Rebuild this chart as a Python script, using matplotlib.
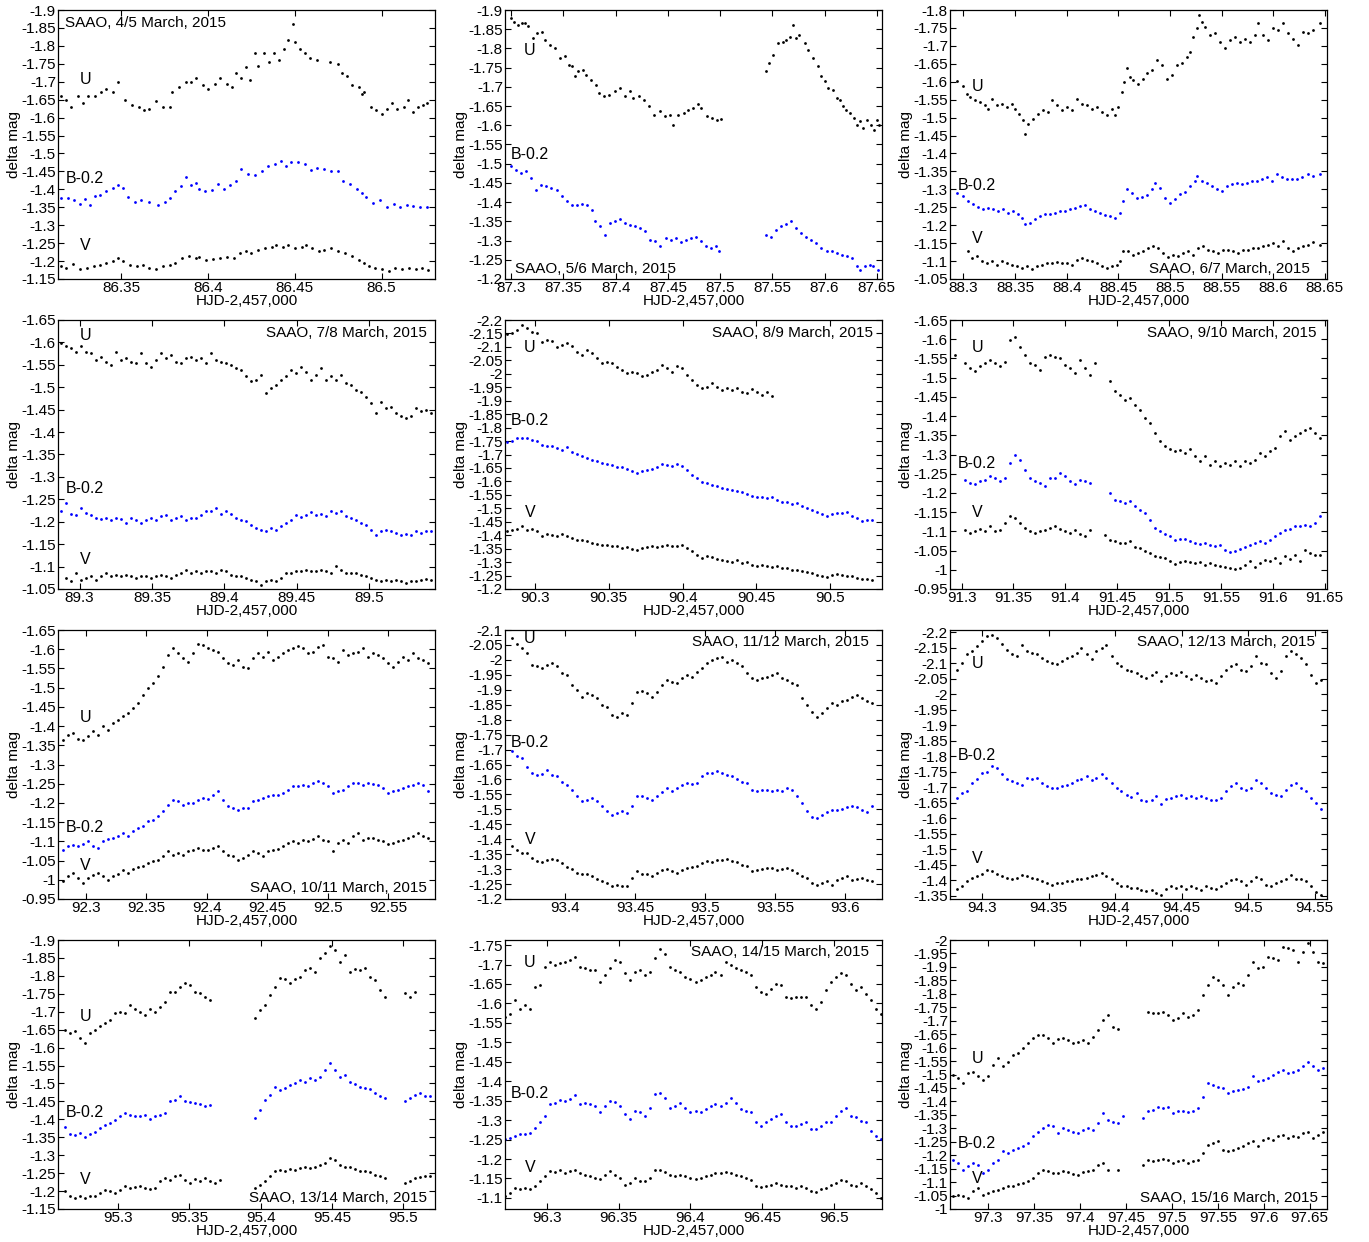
import matplotlib
matplotlib.use("Agg")
import matplotlib.pyplot as plt
import numpy as np
from matplotlib.ticker import MultipleLocator, FuncFormatter

plt.rcParams['font.family'] = ['Liberation Sans', 'DejaVu Sans']
plt.rcParams['axes.unicode_minus'] = False
nan = float('nan')

# ---------------- Panel 1 : SAAO, 4/5 March, 2015 ----------------
p1_t_u = [86.315,86.318,86.321,86.325,86.328,86.331,86.335,86.338,86.341,86.345,86.348,86.352,86.356,86.360,86.363,86.366,86.370,86.374,86.378,86.379,86.383,86.387,86.390,86.393,86.397,86.400,86.404,86.407,86.411,86.414,86.416,86.419,86.422,86.424,86.427,86.429,86.432,86.435,86.438,86.441,86.444,86.446,86.449,86.450,86.453,86.456,86.459,86.463,86.470,86.475,86.477,86.480,86.483,86.487,86.489,86.490,86.494,86.497,86.500,86.503,86.506,86.509,86.513,86.515,86.518,86.521,86.524,86.526]
p1_u = [-1.66,-1.65,-1.63,-1.66,-1.64,-1.66,-1.66,-1.67,-1.68,-1.67,-1.70,-1.65,-1.635,-1.63,-1.62,-1.625,-1.645,-1.63,-1.63,-1.67,-1.685,-1.70,-1.70,-1.71,-1.69,-1.68,-1.695,-1.71,-1.695,-1.685,-1.725,-1.71,-1.74,-1.705,-1.78,-1.745,-1.78,-1.755,-1.78,-1.76,-1.79,-1.815,-1.86,-1.81,-1.79,-1.78,-1.765,-1.76,-1.755,-1.75,-1.725,-1.715,-1.69,-1.685,-1.665,-1.67,-1.63,-1.62,-1.61,-1.625,-1.64,-1.625,-1.63,-1.65,-1.615,-1.63,-1.635,-1.64]
p1_t_b = [86.315,86.319,86.323,86.326,86.329,86.332,86.335,86.3375,86.341,86.345,86.348,86.351,86.354,86.358,86.3615,86.366,86.371,86.375,86.378,86.381,86.3846,86.3875,86.390,86.393,86.395,86.398,86.402,86.406,86.409,86.4125,86.416,86.419,86.423,86.427,86.431,86.4346,86.4385,86.442,86.445,86.448,86.452,86.456,86.4596,86.463,86.467,86.471,86.475,86.478,86.482,86.4856,86.4885,86.491,86.495,86.499,86.503,86.507,86.5106,86.5144,86.518,86.522,86.526]
p1_b = [-1.375,-1.377,-1.37,-1.36,-1.373,-1.355,-1.382,-1.385,-1.394,-1.403,-1.413,-1.403,-1.38,-1.366,-1.37,-1.366,-1.357,-1.366,-1.375,-1.394,-1.408,-1.434,-1.413,-1.419,-1.40,-1.394,-1.399,-1.415,-1.40,-1.413,-1.422,-1.456,-1.443,-1.44,-1.45,-1.464,-1.471,-1.478,-1.466,-1.476,-1.475,-1.471,-1.454,-1.459,-1.456,-1.452,-1.45,-1.422,-1.414,-1.40,-1.389,-1.38,-1.363,-1.37,-1.35,-1.36,-1.352,-1.355,-1.354,-1.352,-1.35]
p1_t_v = [86.315,86.318,86.322,86.326,86.330,86.334,86.3375,86.341,86.345,86.348,86.351,86.355,86.359,86.3625,86.366,86.370,86.374,86.378,86.381,86.385,86.389,86.393,86.395,86.399,86.403,86.407,86.411,86.415,86.4183,86.422,86.425,86.429,86.433,86.437,86.4394,86.443,86.446,86.450,86.454,86.4567,86.460,86.464,86.467,86.471,86.475,86.479,86.483,86.487,86.490,86.4925,86.4962,86.500,86.504,86.508,86.512,86.516,86.5196,86.5235,86.527]
p1_v = [-1.185,-1.182,-1.191,-1.178,-1.182,-1.185,-1.19,-1.194,-1.20,-1.208,-1.199,-1.19,-1.185,-1.19,-1.18,-1.178,-1.185,-1.19,-1.194,-1.208,-1.213,-1.208,-1.211,-1.202,-1.205,-1.208,-1.211,-1.208,-1.222,-1.229,-1.222,-1.231,-1.236,-1.239,-1.245,-1.239,-1.245,-1.236,-1.24,-1.245,-1.236,-1.227,-1.231,-1.236,-1.227,-1.222,-1.213,-1.204,-1.194,-1.185,-1.182,-1.178,-1.171,-1.182,-1.178,-1.18,-1.178,-1.18,-1.174]

# ---------------- Panel 2 : SAAO, 5/6 March, 2015 ----------------
p2_t_u = [87.300,87.303,87.306,87.310,87.313,87.316,87.321,87.325,87.329,87.332,87.337,87.342,87.347,87.351,87.355,87.358,87.361,87.364,87.369,87.372,87.376,87.381,87.384,87.389,87.394,87.399,87.404,87.409,87.414,87.417,87.422,87.427,87.432,87.437,87.442,87.447,87.452,87.455,87.460,87.465,87.469,87.474,87.479,87.482,87.487,87.492,87.497,87.501,
          87.544,87.547,87.5505,87.555,87.560,87.563,87.5665,87.570,87.573,87.576,87.581,87.584,87.589,87.594,87.597,87.600,87.603,87.608,87.6115,87.615,87.618,87.621,87.624,87.628,87.631,87.634,87.637,87.6405,87.644,87.647,87.650,87.652]
p2_u = [-1.878,-1.87,-1.861,-1.865,-1.867,-1.858,-1.826,-1.839,-1.844,-1.822,-1.809,-1.80,-1.774,-1.779,-1.757,-1.753,-1.727,-1.74,-1.744,-1.731,-1.718,-1.705,-1.683,-1.675,-1.679,-1.688,-1.696,-1.675,-1.688,-1.67,-1.675,-1.666,-1.649,-1.627,-1.636,-1.623,-1.627,-1.601,-1.627,-1.631,-1.64,-1.644,-1.656,-1.644,-1.623,-1.618,-1.614,-1.616,
        -1.74,-1.761,-1.783,-1.813,-1.818,-1.822,-1.831,-1.861,-1.826,-1.835,-1.813,-1.796,-1.774,-1.753,-1.727,-1.714,-1.696,-1.692,-1.67,-1.666,-1.649,-1.64,-1.631,-1.618,-1.601,-1.61,-1.592,-1.614,-1.601,-1.588,-1.614,-1.601]
p2_t_b = [87.300,87.3048,87.3096,87.3145,87.3193,87.3241,87.3289,87.3337,87.3385,87.3434,87.3482,87.353,87.3578,87.3626,87.3674,87.3723,87.3771,87.3803,87.3851,87.3899,87.3947,87.3996,87.4044,87.4092,87.414,87.4188,87.4236,87.4285,87.4333,87.4381,87.4429,87.4477,87.4525,87.4574,87.4622,87.467,87.4718,87.4766,87.4814,87.4863,87.4911,87.4959,87.4991,
          87.544,87.5489,87.5537,87.5585,87.5633,87.5681,87.573,87.5778,87.5826,87.5874,87.5922,87.597,87.6019,87.6067,87.6115,87.6163,87.6211,87.626,87.6308,87.634,87.6388,87.6436,87.6468,87.6516]
p2_b = [-1.493,-1.484,-1.475,-1.48,-1.462,-1.432,-1.445,-1.441,-1.436,-1.432,-1.415,-1.402,-1.393,-1.393,-1.396,-1.393,-1.38,-1.35,-1.337,-1.315,-1.345,-1.35,-1.356,-1.345,-1.341,-1.337,-1.332,-1.324,-1.302,-1.298,-1.285,-1.306,-1.302,-1.306,-1.295,-1.302,-1.306,-1.31,-1.298,-1.285,-1.28,-1.285,-1.274,
        -1.315,-1.31,-1.328,-1.337,-1.344,-1.35,-1.332,-1.319,-1.31,-1.302,-1.293,-1.28,-1.274,-1.272,-1.267,-1.263,-1.259,-1.254,-1.233,-1.224,-1.233,-1.237,-1.233,-1.224]

# ---------------- Panel 3 : SAAO, 6/7 March, 2015 ----------------
p3_t_u = [88.2935,88.300,88.3032,88.3065,88.3113,88.3161,88.321,88.3242,88.3274,88.3323,88.3371,88.3419,88.3468,88.35,88.3539,88.3581,88.3597,88.3629,88.3677,88.3726,88.3774,88.3823,88.3855,88.3903,88.3952,88.4,88.4048,88.4097,88.4145,88.4194,88.4242,88.429,88.4339,88.4387,88.4435,88.4468,88.45,88.4532,88.4558,88.4581,88.4613,88.4645,88.4694,88.4742,88.4774,88.4823,88.4871,88.4919,88.4968,88.5016,88.5065,88.5113,88.5161,88.5194,88.5226,88.5258,88.5281,88.5306,88.5339,88.5387,88.5435,88.5484,88.5532,88.5581,88.5629,88.5677,88.5726,88.5774,88.5823,88.5855,88.5903,88.5952,88.6,88.6048,88.6097,88.6145,88.6194,88.6242,88.629,88.6339,88.6387,88.6452]
p3_u = [-1.601,-1.588,-1.567,-1.557,-1.548,-1.543,-1.534,-1.525,-1.553,-1.534,-1.539,-1.529,-1.539,-1.525,-1.511,-1.492,-1.455,-1.483,-1.497,-1.511,-1.52,-1.515,-1.548,-1.536,-1.52,-1.529,-1.52,-1.553,-1.539,-1.534,-1.525,-1.529,-1.515,-1.506,-1.525,-1.506,-1.529,-1.571,-1.599,-1.637,-1.613,-1.604,-1.595,-1.609,-1.623,-1.632,-1.66,-1.646,-1.609,-1.618,-1.646,-1.651,-1.669,-1.683,-1.725,-1.749,-1.786,-1.767,-1.753,-1.73,-1.735,-1.711,-1.693,-1.716,-1.725,-1.711,-1.72,-1.711,-1.73,-1.763,-1.73,-1.716,-1.749,-1.744,-1.763,-1.735,-1.72,-1.702,-1.739,-1.735,-1.744,-1.763]
p3_t_b = [88.2935,88.300,88.3048,88.3097,88.3145,88.3194,88.3242,88.329,88.3339,88.3387,88.3435,88.3484,88.3532,88.3565,88.3597,88.3645,88.3694,88.3742,88.379,88.3839,88.3887,88.3935,88.3984,88.4032,88.4081,88.4129,88.4177,88.4226,88.4274,88.4323,88.4371,88.4419,88.4468,88.4516,88.4548,88.4581,88.4629,88.4677,88.4726,88.4774,88.4823,88.4855,88.4903,88.4952,88.5,88.5048,88.5097,88.5145,88.5194,88.5242,88.5258,88.5306,88.5355,88.5403,88.5452,88.55,88.5548,88.5597,88.5645,88.5694,88.5742,88.579,88.5839,88.5887,88.5935,88.5984,88.6032,88.6081,88.6129,88.6177,88.6226,88.6274,88.6339,88.6387,88.6452]
p3_b = [-1.291,-1.282,-1.268,-1.258,-1.252,-1.244,-1.249,-1.244,-1.24,-1.244,-1.235,-1.24,-1.23,-1.221,-1.202,-1.205,-1.216,-1.226,-1.23,-1.23,-1.235,-1.24,-1.24,-1.244,-1.249,-1.254,-1.256,-1.244,-1.24,-1.235,-1.228,-1.226,-1.221,-1.235,-1.268,-1.30,-1.291,-1.277,-1.28,-1.284,-1.30,-1.319,-1.305,-1.277,-1.263,-1.272,-1.287,-1.293,-1.31,-1.324,-1.338,-1.324,-1.319,-1.31,-1.302,-1.296,-1.31,-1.314,-1.319,-1.314,-1.319,-1.324,-1.324,-1.328,-1.333,-1.324,-1.342,-1.333,-1.328,-1.33,-1.328,-1.333,-1.342,-1.338,-1.342]
p3_t_v = [88.3048,88.3081,88.3129,88.3177,88.3226,88.3274,88.3323,88.3371,88.3419,88.3468,88.3516,88.3565,88.3613,88.3661,88.371,88.3758,88.3806,88.3855,88.3903,88.3952,88.4,88.4048,88.4097,88.4145,88.4194,88.4242,88.429,88.4339,88.4387,88.4435,88.4484,88.4516,88.4548,88.4597,88.4645,88.4694,88.4742,88.479,88.4839,88.4887,88.4935,88.4984,88.5032,88.5081,88.5129,88.5177,88.5226,88.5274,88.5323,88.5371,88.5419,88.5468,88.5516,88.5565,88.5613,88.5661,88.571,88.5758,88.5806,88.5855,88.5903,88.5952,88.6,88.6048,88.6097,88.6145,88.6194,88.6242,88.629,88.6339,88.6387,88.6452]
p3_v = [-1.128,-1.109,-1.114,-1.10,-1.095,-1.10,-1.09,-1.10,-1.095,-1.09,-1.086,-1.081,-1.086,-1.078,-1.086,-1.09,-1.095,-1.095,-1.097,-1.095,-1.095,-1.09,-1.104,-1.109,-1.104,-1.10,-1.095,-1.086,-1.081,-1.086,-1.09,-1.10,-1.128,-1.128,-1.118,-1.123,-1.128,-1.137,-1.142,-1.137,-1.123,-1.112,-1.118,-1.114,-1.123,-1.128,-1.118,-1.137,-1.142,-1.132,-1.128,-1.123,-1.131,-1.132,-1.128,-1.123,-1.132,-1.131,-1.137,-1.137,-1.142,-1.146,-1.151,-1.142,-1.156,-1.137,-1.128,-1.137,-1.142,-1.146,-1.153,-1.146]

# ---------------- Panel 4 : SAAO, 7/8 March, 2015 ----------------
p4_t = [89.2874,89.2908,89.2943,89.2977,89.3011,89.3046,89.308,89.3115,89.3149,89.3184,89.3218,89.3253,89.3287,89.3322,89.3356,89.3391,89.3425,89.346,89.3494,89.3529,89.3563,89.3598,89.3632,89.3667,89.3701,89.3736,89.377,89.3805,89.3839,89.3874,89.3908,89.3943,89.3977,89.4011,89.4046,89.408,89.4115,89.4149,89.4184,89.4218,89.4253,89.4287,89.4322,89.4356,89.4391,89.4425,89.446,89.4494,89.4529,89.4563,89.4598,89.4632,89.4667,89.4701,89.4736,89.477,89.4805,89.4839,89.4874,89.4908,89.4943,89.4977,89.5011,89.5046,89.508,89.5115,89.5149,89.5184,89.5218,89.5253,89.5287,89.5322,89.5356,89.5391,89.5425]
p4_u = [-1.598,-1.591,-1.587,-1.579,-1.591,-1.579,-1.576,-1.561,-1.568,-1.557,-1.55,-1.579,-1.561,-1.565,-1.557,-1.553,-1.576,-1.553,-1.546,-1.561,-1.576,-1.565,-1.572,-1.557,-1.553,-1.565,-1.568,-1.561,-1.565,-1.553,-1.576,-1.561,-1.557,-1.553,-1.55,-1.542,-1.539,-1.524,-1.513,-1.516,-1.528,-1.487,-1.498,-1.505,-1.516,-1.524,-1.539,-1.531,-1.546,-1.535,-1.516,-1.528,-1.542,-1.516,-1.524,-1.516,-1.528,-1.509,-1.505,-1.494,-1.49,-1.479,-1.464,-1.442,-1.468,-1.453,-1.457,-1.442,-1.435,-1.431,-1.435,-1.453,-1.446,-1.45,-1.442]
p4_b = [-1.223,-1.242,-1.218,-1.216,-1.23,-1.219,-1.216,-1.208,-1.206,-1.208,-1.205,-1.208,-1.206,-1.197,-1.208,-1.205,-1.197,-1.205,-1.208,-1.205,-1.212,-1.216,-1.205,-1.208,-1.212,-1.205,-1.208,-1.208,-1.216,-1.225,-1.223,-1.23,-1.218,-1.223,-1.218,-1.208,-1.205,-1.201,-1.193,-1.186,-1.182,-1.179,-1.186,-1.182,-1.191,-1.197,-1.205,-1.216,-1.211,-1.216,-1.221,-1.216,-1.218,-1.212,-1.223,-1.219,-1.225,-1.212,-1.208,-1.205,-1.197,-1.193,-1.182,-1.171,-1.179,-1.182,-1.179,-1.175,-1.171,-1.173,-1.171,-1.179,-1.175,-1.179,-1.179]
p4_v = [nan,-1.075,-1.067,-1.086,-1.071,-1.075,-1.078,-1.071,-1.078,-1.086,-1.078,-1.082,-1.078,-1.082,-1.078,-1.075,-1.078,-1.078,-1.075,-1.078,-1.082,-1.078,-1.075,-1.082,-1.086,-1.093,-1.086,-1.09,-1.086,-1.09,-1.09,-1.086,-1.093,-1.09,-1.082,-1.078,-1.078,-1.075,-1.071,-1.067,-1.06,-1.067,-1.071,-1.067,-1.075,-1.086,-1.086,-1.09,-1.09,-1.093,-1.09,-1.09,-1.093,-1.09,-1.086,-1.101,-1.093,-1.086,-1.086,-1.086,-1.082,-1.078,-1.075,-1.071,-1.067,-1.071,-1.067,-1.071,-1.067,-1.063,-1.067,-1.067,-1.071,-1.072,-1.069]

# ---------------- Panel 5 : SAAO, 8/9 March, 2015 ----------------
p5_t = [90.2808,90.2842,90.2876,90.291,90.2944,90.2977,90.3011,90.3045,90.3079,90.3113,90.3147,90.3181,90.3215,90.3249,90.3282,90.3316,90.335,90.3384,90.3418,90.3452,90.3486,90.352,90.3554,90.3588,90.3621,90.3655,90.3689,90.3723,90.3757,90.3791,90.3825,90.3859,90.3893,90.3927,90.396,90.3994,90.4028,90.4062,90.4096,90.413,90.4164,90.4198,90.4232,90.4266,90.4299,90.4333,90.4367,90.4401,90.4435,90.4469,90.4503,90.4537,90.4571,90.4605,90.4638,90.4672,90.4706,90.474,90.4774,90.4808,90.4842,90.4876,90.491,90.4944,90.4977,90.5011,90.5045,90.5079,90.5113,90.5147,90.5181,90.5215,90.5249,90.5282]
p5_u = [-2.148,-2.153,-2.163,-2.181,-2.169,-2.157,-2.15,-2.12,-2.126,-2.123,-2.101,-2.107,-2.113,-2.103,-2.082,-2.07,-2.089,-2.076,-2.058,-2.042,-2.045,-2.039,-2.027,-2.014,-2.004,-2.008,-2.002,-1.99,-1.996,-2.008,-2.014,-2.033,-2.021,-2.008,-2.029,-2.021,-1.996,-1.977,-1.959,-1.946,-1.95,-1.965,-1.952,-1.94,-1.946,-1.94,-1.946,-1.934,-1.928,-1.943,-1.934,-1.922,-1.934,-1.918,
        nan,nan,nan,nan,nan,nan,nan,nan,nan,nan,nan,nan,nan,nan,nan,nan,nan,nan,nan,nan]
p5_b = [-1.745,-1.751,-1.761,-1.763,-1.761,-1.754,-1.752,-1.736,-1.732,-1.73,-1.724,-1.717,-1.727,-1.711,-1.702,-1.695,-1.686,-1.68,-1.674,-1.668,-1.665,-1.662,-1.655,-1.653,-1.646,-1.637,-1.633,-1.637,-1.643,-1.646,-1.655,-1.665,-1.662,-1.658,-1.665,-1.658,-1.643,-1.624,-1.612,-1.596,-1.594,-1.587,-1.584,-1.577,-1.571,-1.569,-1.563,-1.559,-1.554,-1.547,-1.542,-1.542,-1.538,-1.542,-1.532,-1.525,-1.522,-1.517,-1.519,-1.509,-1.501,-1.495,-1.488,-1.48,-1.472,-1.48,-1.482,-1.482,-1.485,-1.472,-1.464,-1.451,-1.455,-1.455]
p5_v = [-1.414,-1.418,-1.423,-1.433,-1.42,-1.423,-1.414,-1.398,-1.405,-1.402,-1.396,-1.405,-1.398,-1.389,-1.383,-1.383,-1.377,-1.371,-1.368,-1.365,-1.365,-1.361,-1.358,-1.352,-1.356,-1.349,-1.346,-1.352,-1.356,-1.358,-1.356,-1.361,-1.365,-1.361,-1.358,-1.365,-1.352,-1.34,-1.327,-1.315,-1.324,-1.319,-1.311,-1.306,-1.303,-1.299,-1.309,-1.297,-1.299,-1.29,-1.287,-1.29,-1.287,-1.282,-1.285,-1.278,-1.278,-1.272,-1.269,-1.266,-1.262,-1.259,-1.253,-1.247,-1.245,-1.253,-1.257,-1.253,-1.247,-1.25,-1.241,-1.237,-1.237,-1.235]

# ---------------- Panel 6 : SAAO, 9/10 March, 2015 ----------------
p6_t = [91.2936,91.2984,91.3032,91.308,91.3128,91.3177,91.3225,91.3273,91.3321,91.3369,91.3417,91.3466,91.3514,91.3562,91.361,91.3658,91.3706,91.3755,91.3803,91.3851,91.3899,91.3947,91.3996,91.4044,91.4092,91.414,91.4188,91.4236,91.4285,91.4333,91.4381,91.4429,91.4477,91.4525,91.4574,91.4622,91.467,91.4718,91.4766,91.4814,91.4863,91.4911,91.4959,91.5007,91.5055,91.5103,91.5152,91.52,91.5248,91.5296,91.5344,91.5392,91.5441,91.5489,91.5537,91.5585,91.5633,91.5681,91.573,91.5778,91.5826,91.5874,91.5922,91.597,91.6019,91.6067,91.6115,91.6163,91.6211,91.626,91.6308,91.6356,91.6404,91.6452]
p6_u = [-1.559,nan,-1.537,-1.524,-1.516,-1.529,-1.537,-1.546,-1.537,-1.529,-1.542,-1.598,-1.607,-1.581,-1.559,-1.537,-1.533,-1.52,-1.555,-1.559,-1.555,-1.55,-1.533,-1.524,-1.511,-1.546,-1.524,-1.507,-1.537,nan,nan,
        -1.49,-1.464,-1.455,-1.442,-1.446,-1.429,-1.416,-1.394,-1.381,-1.355,-1.334,-1.321,-1.314,-1.308,-1.312,-1.303,-1.314,-1.295,-1.282,-1.295,-1.273,-1.282,-1.269,-1.277,-1.273,-1.282,-1.269,-1.282,-1.277,-1.286,-1.303,-1.295,-1.308,-1.316,-1.347,-1.36,-1.338,-1.347,-1.355,-1.364,-1.368,-1.355,-1.342]
p6_b = [nan,nan,-1.234,-1.225,-1.224,-1.23,-1.234,-1.243,-1.238,-1.23,-1.238,-1.277,-1.299,-1.286,-1.26,-1.238,-1.23,-1.225,-1.217,-1.238,-1.238,-1.251,-1.243,-1.23,-1.224,-1.234,-1.23,-1.225,nan,nan,nan,
        -1.201,-1.182,-1.178,-1.173,-1.178,-1.165,-1.156,-1.147,-1.13,-1.108,-1.1,-1.094,-1.087,-1.078,-1.08,-1.08,-1.074,-1.069,-1.068,-1.071,-1.065,-1.061,-1.065,-1.052,-1.045,-1.05,-1.054,-1.059,-1.065,-1.069,-1.074,-1.069,-1.078,-1.087,-1.097,-1.104,-1.106,-1.113,-1.115,-1.117,-1.115,-1.121,-1.139]
p6_v = [nan,nan,-1.104,-1.097,-1.102,-1.106,-1.102,-1.113,-1.1,-1.104,-1.121,-1.14,-1.134,-1.121,-1.108,-1.1,-1.095,-1.1,-1.104,-1.108,-1.113,-1.106,-1.1,-1.095,-1.104,-1.093,-1.088,-1.104,nan,nan,-1.09,
        -1.078,-1.074,-1.071,-1.069,-1.074,-1.059,-1.056,-1.048,-1.043,-1.037,-1.033,-1.03,-1.022,-1.016,-1.019,-1.022,-1.019,-1.017,-1.019,-1.013,-1.017,-1.013,-1.01,-1.007,-1.004,-1.002,-1.004,-1.013,-1.022,-1.008,-1.017,-1.026,-1.022,-1.03,-1.017,-1.035,-1.028,-1.039,-1.022,-1.052,-1.043,-1.039,-1.039]

# ---------------- Panel 7 : SAAO, 10/11 March, 2015 ----------------
p7_t = [92.2813,92.2854,92.2895,92.2937,92.2978,92.3019,92.3061,92.3102,92.3143,92.3185,92.3226,92.3267,92.3309,92.335,92.3391,92.3433,92.3474,92.3515,92.3557,92.3598,92.3639,92.3681,92.3722,92.3763,92.3805,92.3846,92.3888,92.3929,92.397,92.4012,92.4053,92.4094,92.4136,92.4177,92.4218,92.426,92.4301,92.4342,92.4384,92.4425,92.4466,92.4508,92.4549,92.459,92.4632,92.4673,92.4714,92.4756,92.4797,92.4838,92.488,92.4921,92.4962,92.5004,92.5045,92.5087,92.5128,92.5169,92.5211,92.5252,92.5293,92.5335,92.5376,92.5417,92.5459,92.55,92.5541,92.5583,92.5624,92.5665,92.5707,92.5748,92.5789,92.5831]
p7_u = [-1.364,-1.377,-1.381,-1.366,-1.364,-1.373,-1.386,-1.377,-1.399,-1.39,-1.407,-1.416,-1.425,-1.433,-1.446,-1.459,-1.481,-1.498,-1.511,-1.529,-1.555,-1.585,-1.602,-1.589,-1.576,-1.568,-1.589,-1.614,-1.611,-1.602,-1.598,-1.594,-1.576,-1.563,-1.559,-1.572,-1.555,-1.55,-1.576,-1.589,-1.581,-1.594,-1.572,-1.581,-1.589,-1.598,-1.602,-1.608,-1.602,-1.589,-1.594,-1.607,-1.611,-1.581,-1.576,-1.568,-1.598,-1.585,-1.589,-1.594,-1.602,-1.581,-1.589,-1.585,-1.576,-1.563,-1.555,-1.568,-1.581,-1.572,-1.589,-1.576,-1.572,-1.563]
p7_b = [-1.078,-1.087,-1.091,-1.087,-1.094,-1.1,-1.089,-1.082,-1.1,-1.106,-1.108,-1.114,-1.121,-1.113,-1.126,-1.134,-1.139,-1.152,-1.156,-1.165,-1.178,-1.195,-1.208,-1.204,-1.195,-1.199,-1.201,-1.208,-1.212,-1.21,-1.221,-1.23,-1.208,-1.191,-1.186,-1.182,-1.186,-1.186,-1.204,-1.208,-1.212,-1.217,-1.221,-1.221,-1.227,-1.234,-1.243,-1.243,-1.247,-1.243,-1.251,-1.256,-1.251,-1.243,-1.225,-1.23,-1.234,-1.243,-1.251,-1.253,-1.247,-1.251,-1.249,-1.247,-1.238,-1.225,-1.23,-1.234,-1.238,-1.243,-1.247,-1.251,-1.247,-1.23]
p7_v = [-0.996,-1.009,-1.017,-1.004,-0.991,-1.004,-1.013,-1.017,-1.009,-1.0,-1.009,-1.016,-1.026,-1.017,-1.028,-1.033,-1.036,-1.043,-1.048,-1.052,-1.061,-1.074,-1.065,-1.069,-1.065,-1.074,-1.078,-1.082,-1.078,-1.078,-1.082,-1.087,-1.074,-1.065,-1.061,-1.052,-1.056,-1.065,-1.074,-1.069,-1.061,-1.074,-1.078,-1.08,-1.087,-1.095,-1.1,-1.097,-1.104,-1.1,-1.106,-1.113,-1.104,-1.1,-1.074,-1.097,-1.104,-1.097,-1.113,-1.121,-1.104,-1.108,-1.108,-1.104,-1.1,-1.094,-1.097,-1.102,-1.104,-1.108,-1.113,-1.121,-1.113,-1.108]

# ---------------- Panel 8 : SAAO, 11/12 March, 2015 ----------------
p8_t = [93.3619,93.3655,93.369,93.3726,93.3762,93.3798,93.3833,93.3869,93.3905,93.394,93.3976,93.4012,93.4048,93.4083,93.4119,93.4155,93.419,93.4226,93.4262,93.4298,93.4333,93.4369,93.4405,93.444,93.4476,93.4512,93.4548,93.4583,93.4619,93.4655,93.469,93.4726,93.4762,93.4798,93.4833,93.4869,93.4905,93.494,93.4976,93.5012,93.5048,93.5083,93.5119,93.5155,93.519,93.5226,93.5262,93.5298,93.5333,93.5369,93.5405,93.544,93.5476,93.5512,93.5548,93.5583,93.5619,93.5655,93.569,93.5726,93.5762,93.5798,93.5833,93.5869,93.5905,93.594,93.5976,93.6012,93.6048,93.6083,93.6119,93.6155,93.619]
p8_u = [-2.072,-2.053,-2.039,-2.022,-1.983,-1.978,-1.972,-1.983,-1.989,-1.978,-1.955,-1.95,-1.916,-1.9,-1.877,-1.888,-1.883,-1.872,-1.849,-1.842,-1.816,-1.808,-1.822,-1.816,-1.855,-1.894,-1.897,-1.888,-1.877,-1.894,-1.916,-1.933,-1.927,-1.922,-1.939,-1.95,-1.944,-1.961,-1.972,-1.989,-2.0,-2.005,-2.011,-1.994,-2.0,-1.989,-1.978,-1.955,-1.939,-1.933,-1.939,-1.944,-1.95,-1.955,-1.939,-1.933,-1.922,-1.916,-1.872,-1.849,-1.827,-1.81,-1.822,-1.838,-1.855,-1.849,-1.861,-1.866,-1.877,-1.883,-1.872,-1.861,-1.855]
p8_b = [-1.694,-1.677,-1.671,-1.643,-1.621,-1.616,-1.619,-1.632,-1.616,-1.61,-1.593,-1.582,-1.565,-1.543,-1.527,-1.532,-1.538,-1.527,-1.51,-1.493,-1.482,-1.488,-1.493,-1.488,-1.51,-1.543,-1.546,-1.538,-1.532,-1.543,-1.557,-1.571,-1.56,-1.571,-1.582,-1.588,-1.585,-1.588,-1.61,-1.621,-1.621,-1.627,-1.621,-1.616,-1.61,-1.601,-1.593,-1.588,-1.565,-1.56,-1.565,-1.565,-1.563,-1.565,-1.563,-1.571,-1.565,-1.543,-1.521,-1.493,-1.476,-1.471,-1.482,-1.49,-1.499,-1.497,-1.501,-1.508,-1.51,-1.508,-1.499,-1.49,-1.512]
p8_v = [-1.376,-1.365,-1.354,-1.354,-1.337,-1.326,-1.323,-1.332,-1.334,-1.33,-1.321,-1.307,-1.3,-1.287,-1.282,-1.285,-1.276,-1.267,-1.259,-1.254,-1.243,-1.248,-1.245,-1.243,-1.27,-1.293,-1.285,-1.282,-1.276,-1.287,-1.296,-1.3,-1.293,-1.287,-1.298,-1.304,-1.307,-1.311,-1.321,-1.326,-1.323,-1.329,-1.332,-1.334,-1.326,-1.323,-1.315,-1.309,-1.293,-1.298,-1.3,-1.304,-1.304,-1.298,-1.3,-1.304,-1.298,-1.287,-1.276,-1.27,-1.254,-1.248,-1.254,-1.259,-1.248,-1.265,-1.27,-1.276,-1.265,-1.267,-1.27,-1.265,-1.259]

# ---------------- Panel 9 : SAAO, 12/13 March, 2015 ----------------
p9_t = [94.2807,94.2845,94.2882,94.292,94.2957,94.2995,94.3033,94.307,94.3108,94.3145,94.3183,94.322,94.3258,94.3296,94.3333,94.3371,94.3408,94.3446,94.3483,94.3521,94.3559,94.3596,94.3634,94.3671,94.3709,94.3746,94.3784,94.3822,94.3859,94.3897,94.3934,94.3972,94.401,94.4047,94.4085,94.4122,94.416,94.4197,94.4235,94.4273,94.431,94.4348,94.4385,94.4423,94.446,94.4498,94.4536,94.4573,94.4611,94.4648,94.4686,94.4723,94.4761,94.4799,94.4836,94.4874,94.4911,94.4949,94.4986,94.5024,94.5062,94.5099,94.5137,94.5174,94.5212,94.5249,94.5287,94.5325,94.5362,94.54,94.5437,94.5475,94.5512,94.555]
p9_u = [-2.079,-2.101,-2.128,-2.139,-2.155,-2.171,-2.187,-2.192,-2.182,-2.163,-2.144,-2.128,-2.123,-2.16,-2.139,-2.133,-2.128,-2.117,-2.106,-2.101,-2.096,-2.106,-2.117,-2.123,-2.133,-2.149,-2.128,-2.112,-2.139,-2.149,-2.16,-2.123,-2.101,-2.09,-2.079,-2.074,-2.069,-2.058,-2.053,-2.063,-2.071,-2.042,-2.058,-2.069,-2.063,-2.071,-2.058,-2.05,-2.063,-2.053,-2.042,-2.047,-2.036,-2.058,-2.079,-2.09,-2.096,-2.079,-2.074,-2.09,-2.123,-2.101,-2.096,-2.069,-2.053,-2.074,-2.123,-2.139,-2.128,-2.117,-2.096,-2.063,-2.036,-2.047]
p9_b = [-1.665,-1.681,-1.687,-1.714,-1.727,-1.746,-1.748,-1.767,-1.762,-1.741,-1.727,-1.719,-1.714,-1.708,-1.73,-1.727,-1.73,-1.714,-1.703,-1.698,-1.698,-1.703,-1.708,-1.714,-1.724,-1.727,-1.735,-1.724,-1.73,-1.741,-1.73,-1.714,-1.698,-1.687,-1.676,-1.668,-1.681,-1.66,-1.654,-1.66,-1.671,-1.647,-1.662,-1.665,-1.671,-1.676,-1.665,-1.671,-1.665,-1.671,-1.665,-1.66,-1.66,-1.665,-1.687,-1.703,-1.714,-1.698,-1.692,-1.698,-1.724,-1.714,-1.698,-1.681,-1.676,-1.671,-1.692,-1.708,-1.714,-1.698,-1.687,-1.665,-1.649,-1.63]
p9_v = [-1.371,-1.38,-1.396,-1.407,-1.412,-1.421,-1.432,-1.428,-1.421,-1.412,-1.407,-1.402,-1.407,-1.418,-1.412,-1.407,-1.402,-1.396,-1.391,-1.385,-1.391,-1.391,-1.396,-1.396,-1.402,-1.404,-1.407,-1.412,-1.418,-1.423,-1.412,-1.402,-1.391,-1.382,-1.38,-1.375,-1.375,-1.369,-1.364,-1.369,-1.359,-1.353,-1.371,-1.38,-1.375,-1.38,-1.371,-1.38,-1.375,-1.369,-1.38,-1.375,-1.371,-1.38,-1.391,-1.4,-1.404,-1.396,-1.385,-1.396,-1.41,-1.402,-1.385,-1.38,-1.391,-1.396,-1.404,-1.415,-1.402,-1.404,-1.396,-1.38,-1.361,-1.353]

# ---------------- Panel 10 : SAAO, 13/14 March, 2015 ----------------
p10_t = [95.2626,95.2661,95.2696,95.2731,95.2766,95.2801,95.2836,95.2871,95.2906,95.2942,95.2977,95.3012,95.3047,95.3082,95.3117,95.3152,95.3187,95.3222,95.3257,95.3292,95.3327,95.3363,95.3398,95.3433,95.3468,95.3503,95.3538,95.3573,95.3608,95.3643,95.3678,95.3713,95.3749,95.3784,95.3819,95.3854,95.3889,95.3924,95.3959,95.3994,95.4029,95.4064,95.4099,95.4135,95.417,95.4205,95.424,95.4275,95.431,95.4345,95.438,95.4415,95.445,95.4485,95.452,95.4556,95.4591,95.4626,95.4661,95.4696,95.4731,95.4766,95.4801,95.4836,95.4871,95.4906,95.4942,95.4977,95.5012,95.5047,95.5082,95.5117,95.5152,95.5187]
p10_u = [-1.649,-1.64,-1.645,-1.626,-1.612,-1.64,-1.649,-1.659,-1.668,-1.677,-1.696,-1.7,-1.696,-1.719,-1.709,-1.7,-1.691,-1.709,-1.7,-1.714,-1.728,-1.756,-1.756,-1.77,-1.779,-1.775,-1.756,-1.751,-1.742,-1.733,
         nan,nan,nan,nan,nan,nan,nan,nan,
         -1.682,-1.705,-1.719,-1.747,-1.77,-1.793,-1.79,-1.779,-1.79,-1.798,-1.816,-1.821,-1.812,-1.849,-1.863,-1.883,-1.872,-1.84,-1.858,-1.812,-1.819,-1.816,-1.821,-1.798,-1.788,-1.761,-1.742,
         nan,nan,nan,-1.751,-1.742,-1.756,nan,nan,nan]
p10_b = [-1.378,-1.36,-1.357,-1.361,-1.352,-1.36,-1.366,-1.375,-1.385,-1.391,-1.399,-1.408,-1.419,-1.413,-1.408,-1.41,-1.413,-1.4,-1.408,-1.413,-1.417,-1.45,-1.454,-1.464,-1.452,-1.447,-1.445,-1.443,-1.438,-1.44,
         nan,nan,nan,nan,nan,nan,nan,nan,
         -1.403,-1.426,-1.454,-1.468,-1.491,-1.482,-1.487,-1.496,-1.501,-1.51,-1.505,-1.515,-1.51,-1.519,-1.538,-1.558,-1.538,-1.519,-1.524,-1.505,-1.499,-1.491,-1.487,-1.484,-1.473,-1.464,-1.459,
         nan,nan,nan,-1.45,-1.459,-1.468,-1.473,-1.466,-1.466]
p10_v = [-1.199,-1.185,-1.18,-1.185,-1.18,-1.185,-1.187,-1.194,-1.204,-1.199,-1.194,-1.204,-1.215,-1.208,-1.211,-1.213,-1.208,-1.206,-1.208,-1.227,-1.236,-1.231,-1.241,-1.245,-1.231,-1.222,-1.233,-1.229,-1.236,-1.227,-1.222,-1.231,
         nan,nan,nan,nan,nan,nan,
         -1.208,-1.218,-1.227,-1.241,-1.255,-1.259,-1.257,-1.261,-1.259,-1.264,-1.266,-1.264,-1.268,-1.273,-1.278,-1.292,-1.287,-1.273,-1.268,-1.266,-1.261,-1.257,-1.257,-1.252,-1.245,-1.241,-1.236,
         nan,nan,nan,-1.222,-1.227,-1.236,-1.239,-1.241,-1.243]

# ---------------- Panel 11 : SAAO, 14/15 March, 2015 ----------------
p11_t = [96.2709,96.2744,96.2779,96.2814,96.2849,96.2884,96.2919,96.2953,96.2988,96.3023,96.3058,96.3093,96.3128,96.3163,96.3198,96.3233,96.3267,96.3302,96.3337,96.3372,96.3407,96.3442,96.3477,96.3512,96.3547,96.3581,96.3616,96.3651,96.3686,96.3721,96.3756,96.3791,96.3826,96.386,96.3895,96.393,96.3965,96.4,96.4035,96.407,96.4105,96.414,96.4174,96.4209,96.4244,96.4279,96.4314,96.4349,96.4384,96.4419,96.4453,96.4488,96.4523,96.4558,96.4593,96.4628,96.4663,96.4698,96.4733,96.4767,96.4802,96.4837,96.4872,96.4907,96.4942,96.4977,96.5012,96.5047,96.5081,96.5116,96.5151,96.5186,96.5221,96.5256,96.5291,96.5326]
p11_u = [-1.565,-1.574,-1.608,-1.586,-1.595,-1.586,-1.642,-1.647,-1.694,-1.707,-1.698,-1.703,-1.707,-1.711,-1.72,-1.694,-1.69,-1.685,-1.685,-1.655,-1.673,-1.69,-1.711,-1.707,-1.677,-1.66,-1.681,-1.685,-1.673,-1.681,-1.716,-1.741,-1.728,-1.694,-1.685,-1.681,-1.668,-1.664,-1.655,-1.66,-1.668,-1.673,-1.681,-1.673,-1.707,-1.698,-1.69,-1.685,-1.681,-1.673,-1.642,-1.629,-1.625,-1.638,-1.651,-1.647,-1.617,-1.613,-1.617,-1.617,-1.617,-1.595,-1.586,-1.604,-1.634,-1.655,-1.668,-1.677,-1.673,-1.651,-1.634,-1.642,-1.625,-1.608,-1.586,-1.574]
p11_b = [-1.251,-1.255,-1.259,-1.264,-1.264,-1.268,-1.281,-1.294,-1.311,-1.341,-1.345,-1.352,-1.349,-1.354,-1.364,-1.341,-1.345,-1.341,-1.337,-1.32,-1.337,-1.35,-1.347,-1.337,-1.315,-1.302,-1.324,-1.321,-1.311,-1.332,-1.367,-1.369,-1.358,-1.332,-1.337,-1.345,-1.332,-1.32,-1.324,-1.32,-1.328,-1.337,-1.341,-1.337,-1.345,-1.358,-1.345,-1.328,-1.324,-1.32,-1.294,-1.285,-1.294,-1.302,-1.311,-1.315,-1.294,-1.285,-1.285,-1.289,-1.294,-1.276,-1.278,-1.285,-1.294,-1.296,-1.311,-1.324,-1.332,-1.311,-1.307,-1.298,-1.294,-1.272,-1.259,-1.252]
p11_v = [-1.104,-1.113,-1.126,-1.123,-1.126,-1.123,-1.13,-1.143,-1.156,-1.169,-1.166,-1.173,-1.165,-1.169,-1.173,-1.165,-1.16,-1.156,-1.152,-1.149,-1.16,-1.169,-1.16,-1.152,-1.134,-1.139,-1.152,-1.143,-1.143,-1.152,-1.173,-1.171,-1.166,-1.16,-1.156,-1.16,-1.156,-1.152,-1.149,-1.152,-1.156,-1.16,-1.165,-1.165,-1.166,-1.165,-1.16,-1.156,-1.152,-1.147,-1.13,-1.128,-1.13,-1.134,-1.139,-1.134,-1.13,-1.132,-1.126,-1.13,-1.126,-1.117,-1.115,-1.122,-1.126,-1.134,-1.139,-1.147,-1.143,-1.134,-1.132,-1.139,-1.13,-1.122,-1.113,-1.1]

# ---------------- Panel 12 : SAAO, 15/16 March, 2015 ----------------
p12_t = [97.2619,97.2674,97.2728,97.2782,97.2837,97.2891,97.2946,97.3,97.3054,97.3109,97.3163,97.3218,97.3272,97.3326,97.3381,97.3435,97.349,97.3544,97.3598,97.3653,97.3707,97.3762,97.3816,97.387,97.3925,97.3979,97.4034,97.4088,97.4143,97.4197,97.4251,97.4306,97.436,97.4415,97.4469,97.4523,97.4578,97.4632,97.4687,97.4741,97.4795,97.485,97.4904,97.4959,97.5013,97.5067,97.5122,97.5176,97.5231,97.5285,97.5339,97.5394,97.5448,97.5503,97.5557,97.5612,97.5666,97.572,97.5775,97.5829,97.5884,97.5938,97.5992,97.6047,97.6101,97.6156,97.621,97.6264,97.6319,97.6373,97.6428,97.6482,97.6536,97.6591,97.6645]
p12_u = [-1.499,-1.486,-1.468,-1.505,-1.511,-1.493,-1.48,-1.493,-1.536,-1.561,-1.53,-1.548,-1.573,-1.579,-1.598,-1.616,-1.635,-1.647,-1.647,-1.635,-1.616,-1.631,-1.635,-1.629,-1.616,-1.622,-1.629,-1.616,-1.641,-1.666,-1.703,-1.722,-1.678,-1.67,
         nan,nan,nan,nan,nan,
         -1.734,-1.728,-1.73,-1.734,-1.722,-1.703,-1.71,-1.728,-1.713,-1.722,-1.74,-1.796,-1.833,-1.864,-1.851,-1.833,-1.796,-1.827,-1.839,-1.833,-1.87,-1.92,-1.895,-1.901,-1.938,-1.932,-1.926,-1.975,-1.969,-1.963,-1.92,-1.957,-1.988,-1.957,-1.92,-1.913]
p12_b = [-1.183,-1.171,-1.146,-1.158,-1.171,-1.165,-1.134,-1.146,-1.171,-1.183,-1.214,-1.208,-1.22,-1.226,-1.233,-1.245,-1.27,-1.288,-1.301,-1.313,-1.307,-1.282,-1.301,-1.295,-1.285,-1.282,-1.295,-1.301,-1.295,-1.319,-1.356,-1.332,-1.325,-1.319,-1.344,
         nan,nan,nan,
         -1.338,-1.363,-1.369,-1.379,-1.375,-1.381,-1.356,-1.363,-1.363,-1.359,-1.363,-1.375,-1.418,-1.468,-1.462,-1.455,-1.449,-1.431,-1.437,-1.443,-1.446,-1.455,-1.493,-1.474,-1.48,-1.486,-1.499,-1.511,-1.517,-1.505,-1.511,-1.517,-1.53,-1.548,-1.53,-1.517,-1.524]
p12_v = [-1.047,-1.053,-1.047,-1.041,-1.066,-1.078,-1.053,-1.059,-1.066,-1.072,-1.078,-1.084,-1.087,-1.094,-1.097,-1.103,-1.115,-1.134,-1.146,-1.14,-1.134,-1.134,-1.14,-1.136,-1.131,-1.127,-1.136,-1.14,-1.146,-1.165,-1.171,-1.146,
         nan,-1.146,nan,nan,nan,nan,
         -1.165,-1.183,-1.177,-1.183,-1.186,-1.181,-1.171,-1.177,-1.183,-1.171,-1.177,-1.183,-1.208,-1.239,-1.245,-1.251,-1.22,-1.214,-1.22,-1.226,-1.233,-1.245,-1.251,-1.235,-1.257,-1.264,-1.257,-1.27,-1.276,-1.264,-1.272,-1.267,-1.282,-1.288,-1.264,-1.276,-1.288]

# ---------------- per-panel text / ticks ----------------
titles = ["SAAO, 4/5 March, 2015", "SAAO, 5/6 March, 2015", "SAAO, 6/7 March, 2015",
          "SAAO, 7/8 March, 2015", "SAAO, 8/9 March, 2015", "SAAO, 9/10 March, 2015",
          "SAAO, 10/11 March, 2015", "SAAO, 11/12 March, 2015", "SAAO, 12/13 March, 2015",
          "SAAO, 13/14 March, 2015", "SAAO, 14/15 March, 2015", "SAAO, 15/16 March, 2015"]
xticks_list = [
    [86.35, 86.4, 86.45, 86.5],
    [87.3, 87.35, 87.4, 87.45, 87.5, 87.55, 87.6, 87.65],
    [88.3, 88.35, 88.4, 88.45, 88.5, 88.55, 88.6, 88.65],
    [89.3, 89.35, 89.4, 89.45, 89.5],
    [90.3, 90.35, 90.4, 90.45, 90.5],
    [91.3, 91.35, 91.4, 91.45, 91.5, 91.55, 91.6, 91.65],
    [92.3, 92.35, 92.4, 92.45, 92.5, 92.55],
    [93.4, 93.45, 93.5, 93.55, 93.6],
    [94.3, 94.35, 94.4, 94.45, 94.5, 94.55],
    [95.3, 95.35, 95.4, 95.45, 95.5],
    [96.3, 96.35, 96.4, 96.45, 96.5],
    [97.3, 97.35, 97.4, 97.45, 97.5, 97.55, 97.6, 97.65],
]
band_labels = ["U", "B-0.2", "V"]
xlabel_text = "HJD-2,457,000"
ylabel_text = "delta mag"

series = [
    [(p1_t_u, p1_u), (p1_t_b, p1_b), (p1_t_v, p1_v)],
    [(p2_t_u, p2_u), (p2_t_b, p2_b), None],
    [(p3_t_u, p3_u), (p3_t_b, p3_b), (p3_t_v, p3_v)],
    [(p4_t, p4_u), (p4_t, p4_b), (p4_t, p4_v)],
    [(p5_t, p5_u), (p5_t, p5_b), (p5_t, p5_v)],
    [(p6_t, p6_u), (p6_t, p6_b), (p6_t, p6_v)],
    [(p7_t, p7_u), (p7_t, p7_b), (p7_t, p7_v)],
    [(p8_t, p8_u), (p8_t, p8_b), (p8_t, p8_v)],
    [(p9_t, p9_u), (p9_t, p9_b), (p9_t, p9_v)],
    [(p10_t, p10_u), (p10_t, p10_b), (p10_t, p10_v)],
    [(p11_t, p11_u), (p11_t, p11_b), (p11_t, p11_v)],
    [(p12_t, p12_u), (p12_t, p12_b), (p12_t, p12_v)],
]

# layout (axis limits, label placement in axes fraction)
xlims = [(86.3135, 86.5308), (87.294, 87.655), (88.287, 88.652), (89.2851, 89.5455),
         (90.2797, 90.535), (91.2888, 91.6523), (92.2771, 92.5886), (93.3571, 93.6262),
         (94.2757, 94.5593), (95.2579, 95.5222), (96.2709, 96.5333), (97.2583, 97.6689)]
ylims = [(-1.15, -1.9), (-1.2, -1.9), (-1.05, -1.8), (-1.05, -1.65),
         (-1.2, -2.2), (-0.95, -1.65), (-0.95, -1.65), (-1.2, -2.1),
         (-1.339, -2.207), (-1.15, -1.9), (-1.0716, -1.763), (-1.0, -2.0)]
title_pos = [(0.019, 0.952, 'left'), (0.027, 0.037, 'left'), (0.955, 0.037, 'right'),
             (0.979, 0.952, 'right'), (0.976, 0.952, 'right'), (0.973, 0.952, 'right'),
             (0.979, 0.041, 'right'), (0.965, 0.955, 'right'), (0.968, 0.955, 'right'),
             (0.979, 0.041, 'right'), (0.965, 0.955, 'right'), (0.976, 0.041, 'right')]
label_pos = [
    [(0.072, 0.74), (0.072, 0.375), (0.072, 0.126)],
    [(0.066, 0.85), (0.066, 0.461), None],
    [(0.072, 0.714), (0.072, 0.349), (0.072, 0.152)],
    [(0.072, 0.944), (0.072, 0.375), (0.072, 0.108)],
    [(0.066, 0.896), (0.066, 0.625), (0.066, 0.286)],
    [(0.072, 0.896), (0.072, 0.465), (0.072, 0.286)],
    [(0.072, 0.673), (0.072, 0.264), (0.072, 0.126)],
    [(0.066, 0.97), (0.066, 0.58), (0.066, 0.223)],
    [(0.072, 0.877), (0.072, 0.535), (0.072, 0.152)],
    [(0.072, 0.714), (0.072, 0.357), (0.072, 0.108)],
    [(0.066, 0.918), (0.066, 0.431), (0.066, 0.156)],
    [(0.072, 0.561), (0.072, 0.245), (0.072, 0.115)],
]
colors = ['#000000', '#0000ff', '#000000']

W, H = 1369, 1242
fig = plt.figure(figsize=(W / 100, H / 100), dpi=100)
col_left = [58, 505, 950]
row_top = [10, 320, 630, 940]
AW, AH = 377, 269
FS = 11


def fmt(v, pos=None):
    s = '%.2f' % v
    s = s.rstrip('0').rstrip('.')
    if s in ('-0', ''):
        s = '0'
    return s


for i in range(12):
    r, c = divmod(i, 3)
    ax = fig.add_axes([col_left[c] / W, 1 - (row_top[r] + AH) / H, AW / W, AH / H])
    for j in range(3):
        s = series[i][j]
        if s is None:
            continue
        t, m = s
        n = min(len(t), len(m))
        t = np.asarray(t[:n], float)
        m = np.asarray(m[:n], float)
        ok = ~np.isnan(m)
        ax.plot(t[ok], m[ok], linestyle='none', marker='o', ms=2.0, mew=0,
                color=colors[j])
        lp = label_pos[i][j]
        if lp is not None:
            ax.text(lp[0], lp[1], band_labels[j], transform=ax.transAxes,
                    ha='center', va='center', fontsize=FS + 0.5)
    ax.set_xlim(*xlims[i])
    ax.set_ylim(*ylims[i])
    ax.set_xticks(xticks_list[i])
    ax.xaxis.set_major_formatter(FuncFormatter(fmt))
    ax.yaxis.set_major_locator(MultipleLocator(0.05))
    ax.yaxis.set_major_formatter(FuncFormatter(fmt))
    ax.tick_params(direction='in', top=True, right=True, length=4, width=0.8,
                   labelsize=FS, pad=1.5)
    for sp in ax.spines.values():
        sp.set_linewidth(0.9)
    ax.set_xlabel(xlabel_text, fontsize=FS, labelpad=-1)
    ax.set_ylabel(ylabel_text, fontsize=FS, labelpad=0)
    tx, ty, ha = title_pos[i]
    ax.text(tx, ty, titles[i], transform=ax.transAxes, ha=ha, va='center',
            fontsize=FS)

fig.savefig('out.png', dpi=100, facecolor='white')
